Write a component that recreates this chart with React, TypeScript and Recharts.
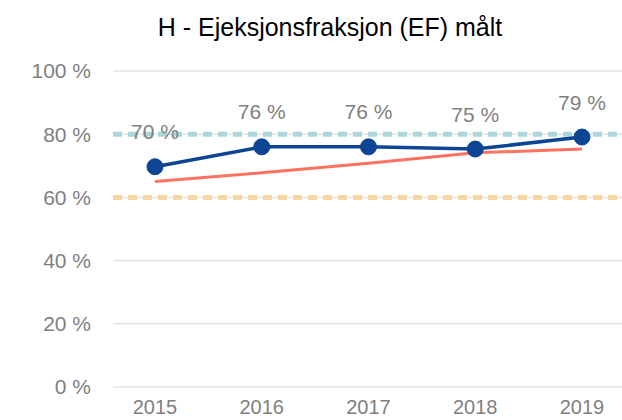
import { LineChart, Line, XAxis, YAxis, CartesianGrid, ReferenceLine, LabelList } from 'recharts';

const years = ['2015', '2016', '2017', '2018', '2019'];
const measured = [69.7, 76.0, 76.0, 75.3, 79.1];
const national = [65.0, 67.8, 70.8, 74.1, 75.3];
const yTicks = [0, 20, 40, 60, 80, 100];
const targetHigh = 80;
const targetLow = 60;

const data = years.map((year, i) => ({ year, measured: measured[i], national: national[i] }));

const FONT = '"Liberation Sans", Arial, sans-serif';

const renderLabel = (props: any) => {
  const { x, y, value } = props;
  return (
    <text
      x={x}
      y={y - 35}
      textAnchor="middle"
      dominantBaseline="central"
      fill="#7f7f7f"
      fontSize={21}
      fontFamily={FONT}
    >
      {`${Math.round(value)} %`}
    </text>
  );
};

export default function App() {
  return (
    <div style={{ position: 'absolute', left: 0, top: 0, width: 622, height: 420, overflow: 'hidden', background: '#fff' }}>
      <div
        style={{
          position: 'absolute',
          left: 0,
          width: 660,
          top: 12,
          textAlign: 'center',
          fontFamily: FONT,
          fontSize: 25,
          color: '#000',
          lineHeight: '30px',
        }}
      >
        H - Ejeksjonsfraksjon (EF) målt
      </div>
      <LineChart width={622} height={420} data={data} margin={{ top: 71, right: 0, bottom: 0, left: 0 }}>
        <CartesianGrid vertical={false} stroke="#e3e3e3" strokeWidth={1.5} />
        <XAxis
          dataKey="year"
          height={33}
          axisLine={false}
          tickLine={false}
          tickSize={0}
          tickMargin={13}
          padding={{ left: 42, right: 40 }}
          tick={{ fill: '#7f7f7f', fontSize: 20, fontFamily: FONT }}
        />
        <YAxis
          width={113}
          domain={[0, 100]}
          ticks={yTicks}
          axisLine={false}
          tickLine={false}
          tickSize={0}
          tickMargin={22}
          tickFormatter={(v) => `${v} %`}
          tick={{ fill: '#7f7f7f', fontSize: 21, fontFamily: FONT }}
        />
        <ReferenceLine y={targetHigh} stroke="#a9d7db" strokeWidth={5} strokeDasharray="9 6" />
        <ReferenceLine y={targetLow} stroke="#f6d79f" strokeWidth={5} strokeDasharray="9 6" />
        <Line
          dataKey="national"
          stroke="#ff7261"
          strokeWidth={3}
          dot={false}
          isAnimationActive={false}
        />
        <Line
          dataKey="measured"
          stroke="#0b4593"
          strokeWidth={3.5}
          dot={{ r: 8, fill: '#0b4593', stroke: '#0b4593', strokeWidth: 1 }}
          isAnimationActive={false}
        >
          <LabelList dataKey="measured" content={renderLabel} />
        </Line>
      </LineChart>
    </div>
  );
}
